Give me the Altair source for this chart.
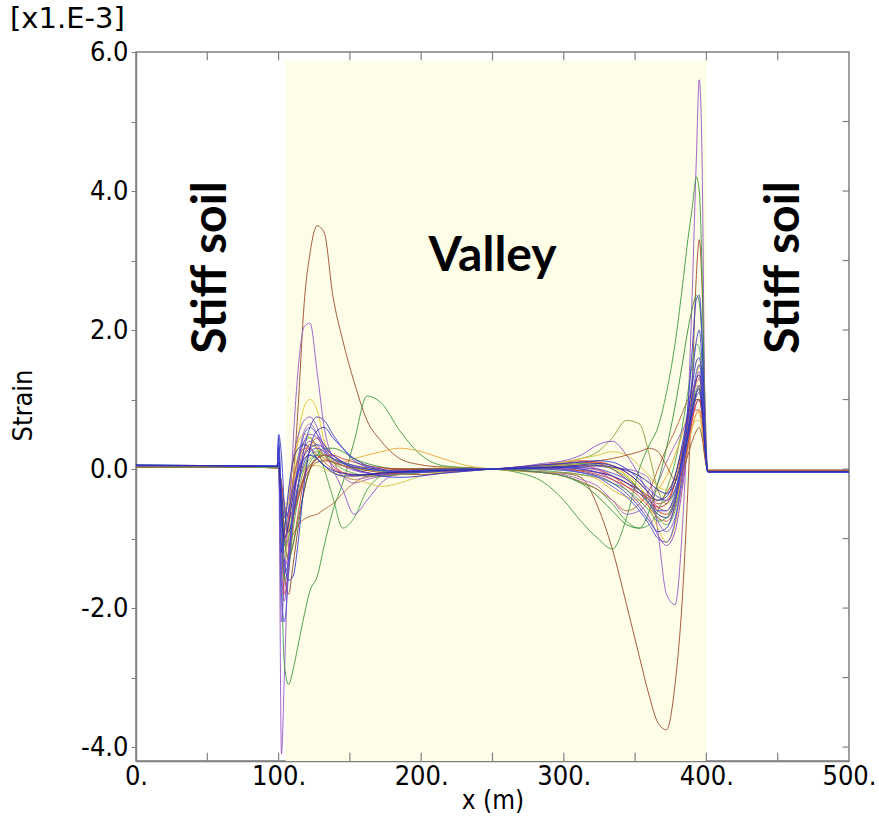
import altair as alt
import pandas as pd

# x positions (m) shared by all strain profiles
X = [0, 50, 99, 100,
     102, 104, 107, 110, 114, 118, 122, 127, 132, 138,
     145, 153, 162, 172, 185, 200, 215, 232, 250, 268, 285, 300, 312, 324, 334, 344, 353,
     360, 366, 372, 378, 383, 387, 390, 393, 395, 397, 399,
     401, 450, 500]

# strain profiles [x1.E-3]
S_BROWN = [0.04, 0.04, 0.03, 0.02,
           -0.3, -0.9, -0.8, -0.2, 1.0, 2.4, 3.1, 3.5, 3.4, 2.5,
           1.85, 1.25, 0.7, 0.4, 0.15, 0.06, 0.03, 0.02, 0.0, -0.02, -0.04, -0.06, -0.12, -0.55, -1.15, -1.95, -2.7,
           -3.27, -3.65, -3.75, -3.1, -1.9, -0.3, 1.2, 2.8, 3.3, 2.6, 1.0,
           -0.02, -0.02, -0.02]
S_PURPLE = [0.04, 0.04, 0.03, 0.1,
            -4.1, -3.0, -1.1, 0.3, 1.5, 2.05, 2.1, 1.4, 0.6, 0.15,
            -0.1, -0.2, -0.15, -0.1, -0.05, -0.02, 0.0, 0.01, 0.0, 0.02, 0.03, 0.05, 0.05, 0.04, 0.02, 0.0, -0.05,
            -0.15, -0.9, -1.8, -1.95, -0.9, 0.8, 2.5, 4.5, 5.6, 4.4, 0.8,
            -0.02, -0.02, -0.02]
S_GREEN = [0.03, 0.03, 0.03, 0.02,
           -1.5, -2.8, -3.1, -2.9, -2.5, -2.1, -1.75, -1.55, -1.1, -0.6,
           -0.2, 0.4, 1.05, 0.95, 0.55, 0.2, 0.05, 0.02, 0.0, -0.05, -0.18, -0.45, -0.75, -1.0, -1.15, -0.7, 0.0,
           0.35, 0.6, 1.1, 1.8, 2.6, 3.3, 3.75, 4.2, 4.0, 2.8, 0.6,
           -0.03, -0.03, -0.03]
S_YELLOW = [0.03, 0.03, 0.02, 0.0,
            -0.6, -1.2, -0.9, -0.2, 0.5, 0.9, 1.0, 0.85, 0.4, 0.1,
            -0.05, -0.1, -0.1, -0.05, 0.0, 0.0, 0.02, 0.01, 0.0, 0.0, 0.02, 0.05, 0.08, 0.1, 0.05, -0.1, -0.3,
            -0.55, -0.85, -1.05, -0.8, -0.2, 0.4, 0.9, 1.3, 1.5, 1.2, 0.4,
            -0.02, -0.02, -0.02]
S_RED = [0.03, 0.03, 0.02, 0.0,
         -0.4, -0.9, -1.3, -1.1, -0.6, -0.1, 0.3, 0.45, 0.35, 0.2,
         0.1, 0.0, -0.05, -0.08, -0.06, -0.03, 0.0, 0.01, 0.0, 0.03, 0.06, 0.1, 0.12, 0.1, 0.05, -0.05, -0.2,
         -0.35, -0.5, -0.45, -0.2, 0.2, 0.6, 1.0, 1.25, 1.3, 1.0, 0.3,
         -0.02, -0.02, -0.02]
S_OLIVE = [0.03, 0.03, 0.02, 0.02,
           -0.2, -0.6, -0.9, -0.7, -0.3, 0.0, 0.15, 0.2, 0.15, 0.1,
           0.05, 0.0, -0.02, -0.03, -0.02, 0.0, 0.01, 0.01, 0.0, 0.02, 0.05, 0.1, 0.15, 0.25, 0.45, 0.7, 0.65,
           0.2, -0.3, -0.5, -0.3, 0.1, 0.5, 0.8, 1.0, 1.0, 0.8, 0.3,
           -0.02, -0.02, -0.02]
S_GREEN2 = [0.03, 0.03, 0.03, 0.05,
            -0.3, -0.8, -0.6, -0.2, 0.2, 0.4, 0.45, 0.3, 0.0, -0.4,
            -0.85, -0.7, -0.3, -0.1, -0.02, 0.0, 0.0, 0.0, 0.0, -0.02, -0.05, -0.1, -0.2, -0.3, -0.5, -0.75, -0.85,
            -0.8, -0.6, -0.3, 0.1, 0.6, 1.1, 1.5, 1.8, 1.75, 1.3, 0.4,
            -0.02, -0.02, -0.02]
S_VIOLET = [0.04, 0.04, 0.03, 0.2,
            -2.2, -1.6, -0.6, 0.1, 0.5, 0.7, 0.75, 0.6, 0.3, 0.0,
            -0.3, -0.65, -0.45, -0.2, -0.05, 0.0, 0.0, 0.0, 0.0, 0.03, 0.08, 0.12, 0.2, 0.35, 0.4, 0.2, -0.1,
            -0.4, -0.75, -0.9, -0.7, -0.2, 0.4, 0.9, 1.3, 1.4, 1.1, 0.4,
            -0.03, -0.03, -0.03]
S_BROWN2 = [0.03, 0.03, 0.02, 0.0,
            -0.3, -1.0, -1.1, -0.95, -0.8, -0.72, -0.68, -0.65, -0.58, -0.5,
            -0.35, -0.2, -0.1, -0.05, 0.0, 0.0, 0.01, 0.01, 0.0, -0.02, -0.05, -0.1, -0.18, -0.3, -0.45, -0.6, -0.5,
            -0.3, 0.0, 0.3, 0.55, 0.8, 1.0, 1.1, 1.2, 1.15, 0.9, 0.3,
            -0.02, -0.02, -0.02]
S_MAGENTA = [0.03, 0.03, 0.02, 0.0,
             -0.8, -1.4, -1.2, -0.6, 0.0, 0.3, 0.4, 0.35, 0.2, 0.05,
             -0.05, -0.1, -0.08, -0.05, -0.02, 0.0, 0.0, 0.0, 0.0, 0.0, 0.02, 0.03, 0.02, -0.02, -0.1, -0.2, -0.3,
             -0.4, -0.55, -0.6, -0.4, 0.0, 0.4, 0.7, 0.95, 1.0, 0.8, 0.3,
             -0.02, -0.02, -0.02]
S_ORANGE = [0.03, 0.03, 0.02, 0.0,
            -0.5, -0.7, -0.4, 0.1, 0.4, 0.5, 0.45, 0.3, 0.15, 0.1,
            0.1, 0.15, 0.2, 0.25, 0.3, 0.25, 0.15, 0.05, 0.0, -0.03, -0.05, -0.05, -0.08, -0.15, -0.3, -0.4, -0.45,
            -0.4, -0.3, -0.1, 0.2, 0.5, 0.8, 0.9, 0.85, 0.8, 0.6, 0.2,
            -0.02, -0.02, -0.02]
S_RED2 = [0.03, 0.03, 0.02, 0.0,
          -1.0, -1.8, -1.5, -0.8, -0.2, 0.2, 0.35, 0.3, 0.2, 0.1,
          0.05, 0.02, 0.0, -0.02, -0.03, -0.02, -0.01, 0.0, 0.0, 0.02, 0.04, 0.08, 0.1, 0.08, 0.0, -0.15, -0.3,
          -0.45, -0.55, -0.5, -0.2, 0.25, 0.7, 1.05, 1.3, 1.35, 1.05, 0.35,
          -0.02, -0.02, -0.02]
S_PURPLE2 = [0.04, 0.04, 0.03, 0.0,
             -0.7, -1.1, -0.8, -0.3, 0.2, 0.55, 0.65, 0.5, 0.25, 0.05,
             -0.1, -0.15, -0.12, -0.08, -0.05, -0.02, 0.0, 0.0, 0.0, -0.02, -0.05, -0.08, -0.15, -0.25, -0.45, -0.65, -0.6,
             -0.45, -0.2, 0.1, 0.35, 0.55, 0.7, 0.8, 0.85, 0.85, 0.65, 0.2,
             -0.02, -0.02, -0.02]
S_GREEN3 = [0.03, 0.03, 0.03, 0.02,
            -0.4, -1.0, -1.3, -1.1, -0.7, -0.3, 0.0, 0.2, 0.3, 0.3,
            0.25, 0.15, 0.08, 0.03, 0.0, 0.0, 0.0, 0.0, 0.0, -0.02, -0.05, -0.1, -0.2, -0.4, -0.6, -0.8, -0.85,
            -0.6, -0.2, 0.3, 0.9, 1.5, 2.0, 2.3, 2.5, 2.4, 1.8, 0.6,
            -0.03, -0.03, -0.03]
S_YELLOW2 = [0.03, 0.03, 0.02, 0.0,
             -0.2, -0.5, -0.5, -0.3, -0.1, 0.0, 0.05, 0.05, 0.0, -0.05,
             -0.1, -0.15, -0.2, -0.25, -0.2, -0.1, -0.05, -0.02, 0.0, 0.02, 0.05, 0.1, 0.15, 0.2, 0.25, 0.2, 0.05,
             -0.1, -0.25, -0.3, -0.15, 0.15, 0.4, 0.6, 0.7, 0.7, 0.55, 0.2,
             -0.02, -0.02, -0.02]
S_BROWN3 = [0.03, 0.03, 0.02, 0.0,
            -0.5, -1.5, -1.8, -1.4, -0.8, -0.3, 0.0, 0.15, 0.2, 0.15,
            0.1, 0.05, 0.02, 0.0, 0.0, 0.0, 0.0, 0.0, 0.0, 0.0, 0.0, 0.0, -0.02, -0.05, -0.1, -0.2, -0.3,
            -0.4, -0.45, -0.35, -0.1, 0.3, 0.6, 0.85, 1.0, 1.0, 0.8, 0.3,
            -0.02, -0.02, -0.02]
S_RED3 = [0.03, 0.03, 0.02, 0.0,
          -0.6, -1.0, -0.7, -0.2, 0.15, 0.3, 0.3, 0.2, 0.1, 0.0,
          -0.05, -0.08, -0.1, -0.1, -0.08, -0.05, -0.03, -0.01, 0.0, 0.02, 0.04, 0.06, 0.05, 0.0, -0.1, -0.25, -0.4,
          -0.55, -0.7, -0.75, -0.55, -0.1, 0.3, 0.6, 0.8, 0.85, 0.65, 0.2,
          -0.02, -0.02, -0.02]
S_GREEN5 = [0.03, 0.03, 0.02, 0.02,
            -0.9, -1.6, -1.4, -0.9, -0.4, -0.1, 0.1, 0.2, 0.2, 0.15,
            0.08, 0.03, 0.0, -0.03, -0.05, -0.05, -0.04, -0.02, 0.0, 0.02, 0.04, 0.06, 0.08, 0.06, 0.0, -0.12, -0.3,
            -0.5, -0.7, -0.8, -0.6, -0.1, 0.4, 0.8, 1.1, 1.15, 0.9, 0.3,
            -0.03, -0.03, -0.03]
S_PURPLE4 = [0.04, 0.04, 0.03, 0.0,
             -1.4, -1.9, -1.3, -0.5, 0.1, 0.4, 0.5, 0.45, 0.3, 0.15,
             0.05, -0.02, -0.06, -0.08, -0.07, -0.05, -0.03, -0.01, 0.0, 0.01, 0.02, 0.02, 0.0, -0.05, -0.15, -0.3, -0.5,
             -0.7, -0.95, -1.1, -0.9, -0.3, 0.3, 0.75, 1.1, 1.2, 0.95, 0.3,
             -0.03, -0.03, -0.03]
S_YELLOW3 = [0.03, 0.03, 0.02, 0.0,
             -0.9, -1.3, -0.9, -0.3, 0.1, 0.3, 0.35, 0.3, 0.2, 0.1,
             0.05, 0.02, 0.0, -0.02, -0.04, -0.05, -0.04, -0.02, 0.0, 0.02, 0.03, 0.05, 0.06, 0.05, 0.02, -0.08, -0.25,
             -0.45, -0.65, -0.7, -0.5, -0.1, 0.3, 0.6, 0.8, 0.85, 0.65, 0.2,
             -0.02, -0.02, -0.02]
S_BROWN4 = [0.03, 0.03, 0.02, 0.0,
            -0.4, -0.8, -0.9, -0.7, -0.4, -0.15, 0.0, 0.1, 0.12, 0.1,
            0.05, 0.02, -0.02, -0.05, -0.07, -0.08, -0.06, -0.03, 0.0, 0.03, 0.06, 0.08, 0.1, 0.12, 0.15, 0.2, 0.25,
            0.3, 0.25, 0.05, -0.15, -0.05, 0.2, 0.4, 0.55, 0.6, 0.45, 0.15,
            -0.02, -0.02, -0.02]
S_RED4 = [0.03, 0.03, 0.02, 0.0,
          -0.2, -0.5, -0.7, -0.6, -0.35, -0.1, 0.05, 0.15, 0.2, 0.2,
          0.15, 0.1, 0.05, 0.02, 0.0, -0.02, -0.03, -0.02, 0.0, 0.01, 0.02, 0.0, -0.03, -0.08, -0.15, -0.25, -0.35,
          -0.45, -0.6, -0.65, -0.45, -0.05, 0.35, 0.7, 0.95, 1.0, 0.75, 0.25,
          -0.02, -0.02, -0.02]
S_GREEN6 = [0.03, 0.03, 0.02, 0.0,
            -0.6, -1.1, -1.0, -0.6, -0.2, 0.05, 0.2, 0.25, 0.2, 0.1,
            0.0, -0.06, -0.1, -0.1, -0.08, -0.05, -0.02, 0.0, 0.0, 0.0, -0.02, -0.05, -0.08, -0.12, -0.2, -0.3, -0.45,
            -0.6, -0.75, -0.7, -0.4, 0.1, 0.55, 0.9, 1.15, 1.2, 0.9, 0.3,
            -0.03, -0.03, -0.03]
S_BLUE = [0.05, 0.05, 0.04, 0.45,
          -0.5, -1.3, -1.6, -1.55, -1.0, -0.2, 0.3, 0.55, 0.6, 0.45,
          0.3, 0.15, 0.05, 0.0, -0.05, -0.05, -0.03, -0.02, 0.0, 0.02, 0.03, 0.02, 0.0, -0.05, -0.1, -0.2, -0.35,
          -0.5, -0.65, -0.7, -0.45, 0.2, 0.9, 1.7, 2.45, 2.5, 1.9, 0.6,
          -0.04, -0.04, -0.04]
S_BLUE2 = [0.05, 0.05, 0.04, 0.5,
           0.2, -0.5, -0.9, -0.7, -0.2, 0.3, 0.6, 0.75, 0.7, 0.5,
           0.3, 0.12, 0.03, -0.02, -0.04, -0.03, -0.02, -0.01, 0.0, 0.01, 0.0, -0.02, -0.05, -0.1, -0.2, -0.35, -0.55,
           -0.75, -0.9, -0.85, -0.5, 0.1, 0.7, 1.3, 1.85, 2.0, 1.5, 0.5,
           -0.04, -0.04, -0.04]
S_BLUE3 = [0.06, 0.05, 0.04, 0.3,
           -1.2, -0.9, -0.3, 0.1, 0.3, 0.35, 0.3, 0.15, 0.05, -0.05,
           -0.1, -0.1, -0.08, -0.06, -0.04, -0.02, -0.01, 0.0, 0.0, 0.01, 0.02, 0.04, 0.06, 0.08, 0.05, -0.05, -0.2,
           -0.35, -0.45, -0.4, -0.1, 0.35, 0.8, 1.2, 1.55, 1.6, 1.25, 0.4,
           -0.04, -0.04, -0.04]
S_BLUE4 = [0.05, 0.05, 0.04, 0.1,
           -1.8, -2.2, -1.5, -0.6, 0.1, 0.5, 0.6, 0.5, 0.35, 0.2,
           0.1, 0.05, 0.0, -0.02, -0.03, -0.02, -0.01, 0.0, 0.0, 0.01, 0.02, 0.0, -0.05, -0.12, -0.25, -0.4, -0.6,
           -0.8, -1.0, -1.05, -0.75, -0.1, 0.5, 1.0, 1.4, 1.5, 1.2, 0.4,
           -0.04, -0.04, -0.04]
S_BLUE5 = [0.05, 0.05, 0.04, 0.2,
           -0.3, -0.7, -0.6, -0.3, 0.0, 0.2, 0.3, 0.35, 0.3, 0.2,
           0.1, 0.0, -0.05, -0.1, -0.12, -0.1, -0.06, -0.03, 0.0, 0.03, 0.06, 0.08, 0.1, 0.12, 0.1, 0.0, -0.15,
           -0.3, -0.4, -0.45, -0.3, 0.05, 0.45, 0.8, 1.05, 1.1, 0.85, 0.3,
           -0.04, -0.04, -0.04]
S_BLUE6 = [0.05, 0.05, 0.04, 0.35,
           -0.8, -1.5, -1.3, -0.7, -0.2, 0.1, 0.25, 0.3, 0.25, 0.15,
           0.08, 0.03, 0.0, -0.02, -0.03, -0.03, -0.02, -0.01, 0.0, 0.0, 0.01, 0.02, 0.02, 0.0, -0.06, -0.15, -0.3,
           -0.45, -0.6, -0.6, -0.35, 0.1, 0.55, 1.0, 1.3, 1.35, 1.05, 0.35,
           -0.04, -0.04, -0.04]
S_BLUE7 = [0.06, 0.05, 0.04, 0.1,
           -0.6, -1.0, -0.8, -0.4, -0.05, 0.15, 0.2, 0.15, 0.05, -0.02,
           -0.06, -0.08, -0.08, -0.06, -0.04, -0.03, -0.02, -0.01, 0.0, 0.01, 0.02, 0.03, 0.04, 0.05, 0.03, -0.02, -0.1,
           -0.2, -0.3, -0.35, -0.2, 0.15, 0.5, 0.85, 1.1, 1.15, 0.9, 0.3,
           -0.04, -0.04, -0.04]

SERIES = [
    ("brown", S_BROWN, "#9c4a2e"),
    ("purple", S_PURPLE, "#9a58c4"),
    ("green", S_GREEN, "#3e9a3e"),
    ("yellow", S_YELLOW, "#e4c22c"),
    ("red", S_RED, "#dc3c3c"),
    ("olive", S_OLIVE, "#86a038"),
    ("green2", S_GREEN2, "#4aa44a"),
    ("violet", S_VIOLET, "#8a50d0"),
    ("brown2", S_BROWN2, "#b4643e"),
    ("magenta", S_MAGENTA, "#c44a9c"),
    ("orange", S_ORANGE, "#e8a832"),
    ("red2", S_RED2, "#c83232"),
    ("purple2", S_PURPLE2, "#a464c4"),
    ("green3", S_GREEN3, "#389038"),
    ("yellow2", S_YELLOW2, "#d8c040"),
    ("brown3", S_BROWN3, "#8c4630"),
    ("red3", S_RED3, "#e05050"),
    ("green5", S_GREEN5, "#50a050"),
    ("purple4", S_PURPLE4, "#9048c0"),
    ("yellow3", S_YELLOW3, "#e8c840"),
    ("brown4", S_BROWN4, "#a0502a"),
    ("red4", S_RED4, "#d03838"),
    ("green6", S_GREEN6, "#5aa05a"),
    ("blue", S_BLUE, "#3636d0"),
    ("blue2", S_BLUE2, "#4040c8"),
    ("blue3", S_BLUE3, "#2e2eb8"),
    ("blue4", S_BLUE4, "#5050e0"),
    ("blue5", S_BLUE5, "#3a3ad8"),
    ("blue6", S_BLUE6, "#4848d0"),
    ("blue7", S_BLUE7, "#2828a8"),
]

Y_TICKS = [-4, -3, -2, -1, 0, 1, 2, 3, 4, 5, 6]
X_LABELS = [0, 100, 200, 300, 400, 500]
X_MINOR = [50, 100, 150, 200, 250, 300, 350, 400, 450]
RIGHT_TICKS = [-4, -3, -2, -1, 0, 1, 2, 3, 4, 5]

rows = []
for idx, (name, ys, col) in enumerate(SERIES):
    assert len(ys) == len(X), name
    for xv, yv in zip(X, ys):
        rows.append({"x": xv, "y": yv, "series": name, "k": idx})
df = pd.DataFrame(rows)

names = [s[0] for s in SERIES]
cols = [s[2] for s in SERIES]

GRAY = "#808080"
LABEL_FONT = "DejaVu Sans Condensed, DejaVu Sans"
xs = alt.Scale(domain=[0, 500], nice=False, zero=False)
ysc = alt.Scale(domain=[-4.2, 6.0], nice=False, zero=False)

x_axis = alt.Axis(
    title="x (m)", values=X_LABELS, labelExpr="format(datum.value, 'd') + '.'",
    ticks=False, grid=False, domainColor=GRAY, domainWidth=1.5,
    labelFont=LABEL_FONT, labelFontSize=27, labelColor="black", labelPadding=2,
    labelOverlap=False, labelFlush=False,
    titleFont=LABEL_FONT, titleFontSize=26, titleFontWeight="normal", titleColor="black",
    titlePadding=-2,
)
y_axis = alt.Axis(
    title="Strain", values=Y_TICKS,
    labelExpr="datum.value % 2 == 0 ? (datum.value < 0 ? '-' : '') + format(abs(datum.value), '.1f') : ''",
    tickSize=5, tickColor=GRAY, grid=False, domainColor=GRAY, domainWidth=1.5,
    labelFont=LABEL_FONT, labelFontSize=27, labelColor="black", labelPadding=3,
    labelOverlap=False,
    titleFont=LABEL_FONT, titleFontSize=27, titleFontWeight="normal", titleColor="black",
    titleAngle=270, titleX=-113, titleY=353, titleAlign="center", titleBaseline="middle",
)

valley = pd.DataFrame({"x0": [105], "x1": [400], "y0": [-4.2], "y1": [5.88]})
rect = alt.Chart(valley).mark_rect(color="#fdfde8").encode(
    x=alt.X("x0:Q", scale=xs, axis=x_axis), x2="x1:Q",
    y=alt.Y("y0:Q", scale=ysc, axis=y_axis), y2="y1:Q",
)

lines = alt.Chart(df).mark_line(strokeWidth=1.0, opacity=0.9, interpolate="monotone").encode(
    x=alt.X("x:Q", scale=xs, axis=x_axis),
    y=alt.Y("y:Q", scale=ysc, axis=y_axis),
    color=alt.Color("series:N", scale=alt.Scale(domain=names, range=cols), legend=None),
)

tick_x = pd.DataFrame({"x": X_MINOR})
bottom_ticks = alt.Chart(tick_x).transform_calculate(a="-4.2", b="-4.08").mark_rule(
    color=GRAY, strokeWidth=1.2).encode(
    x=alt.X("x:Q", scale=xs, axis=x_axis),
    y=alt.Y("a:Q", scale=ysc, axis=y_axis), y2="b:Q")
top_ticks = alt.Chart(tick_x).transform_calculate(a="6.0", b="5.88").mark_rule(
    color=GRAY, strokeWidth=1.2).encode(
    x=alt.X("x:Q", scale=xs, axis=x_axis),
    y=alt.Y("a:Q", scale=ysc, axis=y_axis), y2="b:Q")
tick_y = pd.DataFrame({"y": RIGHT_TICKS})
right_ticks = alt.Chart(tick_y).transform_calculate(a="500", b="495.5").mark_rule(
    color=GRAY, strokeWidth=1.2).encode(
    x=alt.X("a:Q", scale=xs, axis=x_axis), x2="b:Q",
    y=alt.Y("y:Q", scale=ysc, axis=y_axis))

soil = pd.DataFrame({"label": ["Stiff soil", "Stiff soil"], "x": [53, 455], "y": [2.9, 2.9]})
soil_text = alt.Chart(soil).mark_text(
    font="Lato", fontWeight="bold", fontSize=48, angle=270, color="black",
    align="center", baseline="middle").encode(
    x=alt.X("x:Q", scale=xs, axis=x_axis),
    y=alt.Y("y:Q", scale=ysc, axis=y_axis), text="label:N")
val = pd.DataFrame({"label": ["Valley"], "x": [250], "y": [3.05]})
valley_text = alt.Chart(val).mark_text(
    font="Lato", fontWeight="bold", fontSize=48, color="black",
    align="center", baseline="middle").encode(
    x=alt.X("x:Q", scale=xs, axis=x_axis),
    y=alt.Y("y:Q", scale=ysc, axis=y_axis), text="label:N")

chart = alt.layer(rect, lines, bottom_ticks, top_ticks, right_ticks, soil_text, valley_text).properties(
    width=713, height=709,
    autosize="none",
    padding={"left": 136, "top": 52, "right": 30, "bottom": 61},
    title=alt.TitleParams("[x1.E-3]", anchor="start", frame="group", dx=-126, offset=4,
                          font="DejaVu Sans", fontSize=29, fontWeight="normal", color="black"),
    background="white",
).configure_view(stroke=GRAY, strokeWidth=1.5)

chart.save("out.html", embed_options={"renderer": "svg", "actions": False})
